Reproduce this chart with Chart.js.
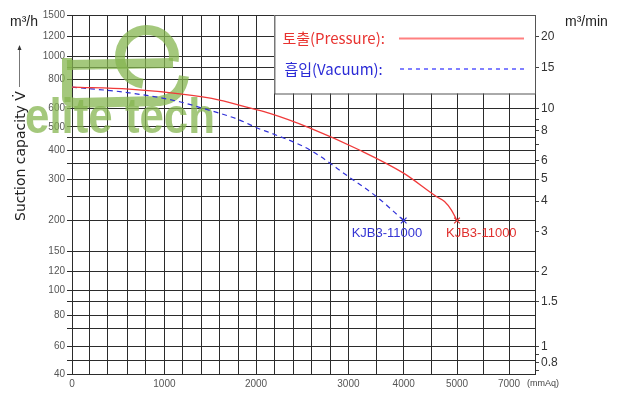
<!DOCTYPE html>
<html>
<head>
<meta charset="utf-8">
<script src="https://cdn.jsdelivr.net/npm/chart.js@4"></script>
<style>
  html, body { margin: 0; background: #fff; }
</style>
</head>
<body>
<canvas id="pumpChart" width="620" height="400"></canvas>
<script>
// pressure axis (mmAq): grid values and labelled values
const pressTicks = [0, 200, 400, 600, 800, 1000, 1200, 1400, 1600, 1800, 2000, 2200, 2400, 2600, 2800, 3000, 3500, 4000, 4500, 5000, 6000, 7000, 8000];
const pressLabels = [0, 1000, 2000, 3000, 4000, 5000, 7000];

// flow axis (m3/h) and right axis (m3/min)
const flowTicks = [40, 50, 60, 70, 80, 90, 100, 120, 150, 200, 250, 300, 350, 400, 450, 500, 600, 800, 900, 1000, 1200, 1500];
const flowLabels = [40, 60, 80, 100, 120, 150, 200, 300, 400, 500, 600, 800, 1000, 1200, 1500];
const minTicks = [0.7, 0.8, 0.9, 1, 1.5, 2, 3, 4, 5, 6, 7, 8, 9, 10, 15, 20];
const minLabels = [0.8, 1, 1.5, 2, 3, 4, 5, 6, 8, 10, 15, 20];

// curves
const pressureX = [0, 620, 1170, 1600, 1930, 2150, 2580, 3200, 3990, 4610, 4760, 4890, 5000];
const pressureY = [740, 725, 692, 652, 603, 572, 496, 400, 319, 250, 239, 221, 200];
const vacuumX = [0, 620, 1170, 1420, 1790, 2040, 2150, 2580, 3020, 3510, 4000];
const vacuumY = [740, 700, 641, 601, 541, 490, 472, 401, 305, 250, 200];

const model = 'KJB3-11000';

// the printed chart is not evenly scaled: where each grid line sits
const xGridPx = [72.3, 89.3, 107.7, 127.7, 146, 164.7, 182.7, 201.3, 219.7, 238.3, 256.3, 274.7, 293.3, 311.7, 330.3, 348.7, 376.3, 404, 431.3, 457.3, 483.3, 509.3, 535.3];
const yGridPx = [374, 360, 346.7, 328.3, 315, 301.5, 290, 271.7, 251, 220.5, 196.7, 179, 163.7, 150, 137.3, 127, 108.5, 79.2, 67.5, 56.7, 36.7, 15];

const xFr = xGridPx.map(p => (p - xGridPx[0]) / (xGridPx[xGridPx.length - 1] - xGridPx[0]));
const yFr = yGridPx.map(p => (yGridPx[0] - p) / (yGridPx[0] - yGridPx[yGridPx.length - 1]));

const KNOTS = {
  x: { vals: pressTicks, fr: xFr, log: false },
  y: { vals: flowTicks, fr: yFr, log: true },
  yr: { vals: flowTicks, fr: yFr, log: true }
};
const TICKS = {
  x: pressTicks,
  y: flowTicks,
  yr: minTicks.map(v => v * 60)
};

// linear scale with piecewise positions between the grid lines
class KnotScale extends Chart.LinearScale {
  static id = 'knot';
  static defaults = Chart.LinearScale.defaults;

  buildTicks() {
    return TICKS[this.id].map(v => ({ value: v }));
  }
  toFrac(v) {
    const k = KNOTS[this.id];
    const t = k.log ? Math.log : (a => a);
    if (v <= k.vals[0]) return k.fr[0];
    for (let i = 1; i < k.vals.length; i++) {
      if (v <= k.vals[i]) {
        return k.fr[i - 1] + (k.fr[i] - k.fr[i - 1]) * (t(v) - t(k.vals[i - 1])) / (t(k.vals[i]) - t(k.vals[i - 1]));
      }
    }
    return k.fr[k.fr.length - 1];
  }
  getPixelForValue(v) {
    return this.getPixelForDecimal(this.toFrac(v));
  }
  getValueForPixel(p) {
    const k = KNOTS[this.id];
    const d = this.getDecimalForPixel(p);
    for (let i = 1; i < k.fr.length; i++) {
      if (d <= k.fr[i]) {
        const r = (d - k.fr[i - 1]) / (k.fr[i] - k.fr[i - 1]);
        if (k.log) return Math.exp(Math.log(k.vals[i - 1]) + r * (Math.log(k.vals[i]) - Math.log(k.vals[i - 1])));
        return k.vals[i - 1] + r * (k.vals[i] - k.vals[i - 1]);
      }
    }
    return k.vals[k.vals.length - 1];
  }
}
Chart.register(KnotScale);

const toPoints = (xs, ys) => xs.map((x, i) => ({ x: x, y: ys[i] }));
const lastOnly = n => ctx => (ctx.dataIndex === n - 1 ? 4 : 0);

const gridColor = '#2b2b2b';

const decor = {
  id: 'decor',
  beforeDatasetsDraw(chart) {
    const { ctx, scales } = chart;
    const right = scales.x.right, top = scales.y.top;
    ctx.save();

    // watermark
    const green = 'rgba(133, 181, 80, 0.75)';
    ctx.strokeStyle = green;
    ctx.lineWidth = 10;
    ctx.beginPath();
    ctx.moveTo(67, 58);
    ctx.lineTo(67, 97);
    ctx.quadraticCurveTo(67, 103, 76, 103);
    ctx.lineTo(160, 101);
    ctx.quadraticCurveTo(181, 98, 184, 76);
    ctx.stroke();
    ctx.beginPath();
    ctx.arc(147, 57, 27, 0.05 * Math.PI, 0.55 * Math.PI, true);
    ctx.stroke();
    ctx.beginPath();
    ctx.moveTo(67, 65);
    ctx.lineTo(173, 63);
    ctx.stroke();
    ctx.fillStyle = green;
    ctx.font = 'bold 50px "Liberation Sans"';
    ctx.textBaseline = 'alphabetic';
    ctx.textAlign = 'left';
    const w = ctx.measureText('elite tech').width;
    ctx.translate(25, 133);
    ctx.scale(190 / w, 1);
    ctx.fillText('elite tech', 0, 0);
    ctx.restore();

    // legend box
    ctx.save();
    const bx = scales.x.getPixelForValue(2200);
    const by = scales.y.getPixelForValue(900) + 26;
    ctx.fillStyle = '#fff';
    ctx.fillRect(bx, top, right - bx, by - top);
    ctx.strokeStyle = '#555';
    ctx.lineWidth = 1;
    ctx.strokeRect(bx + 0.5, top + 0.5, right - bx, by - top);

    ctx.font = '15px "Noto Sans CJK KR"';
    ctx.textBaseline = 'middle';
    ctx.textAlign = 'left';
    ctx.fillStyle = '#e8322f';
    ctx.fillText('토출(Pressure):', bx + 8, 38);
    ctx.fillStyle = '#2b2bd6';
    ctx.fillText('흡입(Vacuum):', bx + 10, 69);

    ctx.strokeStyle = '#ff8080';
    ctx.lineWidth = 2;
    ctx.beginPath();
    ctx.moveTo(399, 38.5);
    ctx.lineTo(524, 38.5);
    ctx.stroke();
    ctx.strokeStyle = '#8080ff';
    ctx.setLineDash([4, 4]);
    ctx.beginPath();
    ctx.moveTo(400, 69);
    ctx.lineTo(526, 69);
    ctx.stroke();
    ctx.restore();
  },
  afterDraw(chart) {
    const { ctx, scales } = chart;
    ctx.save();
    ctx.textBaseline = 'middle';

    // unit labels
    ctx.fillStyle = '#222';
    ctx.font = '14px "Liberation Sans"';
    ctx.textAlign = 'left';
    ctx.fillText('m³/h', 10, 22);
    ctx.fillText('m³/min', 565, 22);
    ctx.fillStyle = '#444';
    ctx.font = '9px "Liberation Sans"';
    ctx.fillText('(mmAq)', 527, 384);

    // axis title with arrow
    ctx.strokeStyle = '#777';
    ctx.lineWidth = 1;
    ctx.beginPath();
    ctx.moveTo(19.5, 87);
    ctx.lineTo(19.5, 48);
    ctx.stroke();
    ctx.fillStyle = '#333';
    ctx.beginPath();
    ctx.moveTo(19.5, 45);
    ctx.lineTo(17.5, 50);
    ctx.lineTo(21.5, 50);
    ctx.closePath();
    ctx.fill();

    ctx.save();
    ctx.translate(21, 156);
    ctx.rotate(-Math.PI / 2);
    ctx.textAlign = 'center';
    ctx.fillStyle = '#222';
    ctx.font = '14px "DejaVu Sans"';
    ctx.fillText('Suction capacity V\u0307', 0, 0);
    ctx.restore();

    // model labels at the curve ends
    ctx.font = '13px "Liberation Sans"';
    ctx.textAlign = 'left';
    const vx = scales.x.getPixelForValue(vacuumX[vacuumX.length - 1]);
    const vy = scales.y.getPixelForValue(vacuumY[vacuumY.length - 1]);
    ctx.fillStyle = '#3434d4';
    ctx.fillText(model, vx - 52, vy + 13);
    const px = scales.x.getPixelForValue(pressureX[pressureX.length - 1]);
    const py = scales.y.getPixelForValue(pressureY[pressureY.length - 1]);
    ctx.fillStyle = '#e0302e';
    ctx.fillText(model, px - 11, py + 13);
    ctx.restore();
  }
};

new Chart(document.getElementById('pumpChart'), {
  type: 'line',
  data: {
    datasets: [{
      label: '토출(Pressure)',
      data: toPoints(pressureX, pressureY),
      borderColor: '#f03a3a',
      borderWidth: 1.3,
      pointStyle: 'crossRot',
      pointRadius: lastOnly(pressureX.length),
      pointBorderColor: '#e0302e',
      pointBorderWidth: 1.2,
      cubicInterpolationMode: 'monotone',
      fill: false
    }, {
      label: '흡입(Vacuum)',
      data: toPoints(vacuumX, vacuumY),
      borderColor: '#3030d8',
      borderWidth: 1.2,
      borderDash: [5, 4],
      pointStyle: 'crossRot',
      pointRadius: lastOnly(vacuumX.length),
      pointBorderColor: '#3030d8',
      pointBorderWidth: 1.2,
      cubicInterpolationMode: 'monotone',
      fill: false
    }]
  },
  options: {
    responsive: false,
    animation: false,
    devicePixelRatio: 1,
    layout: { padding: { top: 15, left: 0, right: 0, bottom: 0 } },
    plugins: {
      legend: { display: false },
      tooltip: { enabled: false }
    },
    scales: {
      x: {
        type: 'knot',
        axis: 'x',
        position: 'bottom',
        min: 0,
        max: 8000,
        afterFit: s => { s.height = 26; },
        grid: { color: gridColor, lineWidth: 1, drawTicks: false },
        border: { color: gridColor },
        ticks: {
          autoSkip: false,
          maxRotation: 0,
          padding: 4,
          color: '#555',
          font: { family: 'Liberation Sans', size: 10 },
          callback: v => (pressLabels.includes(v) ? String(v) : '')
        }
      },
      y: {
        type: 'knot',
        axis: 'y',
        position: 'left',
        min: 40,
        max: 1500,
        afterFit: s => { s.width = 72; },
        grid: { color: gridColor, lineWidth: 1, tickLength: 5 },
        border: { color: gridColor },
        ticks: {
          autoSkip: false,
          padding: 2,
          color: '#555',
          font: { family: 'Liberation Sans', size: 10 },
          callback: v => (flowLabels.includes(v) ? String(v) : '')
        }
      },
      yr: {
        type: 'knot',
        axis: 'y',
        position: 'right',
        min: 40,
        max: 1500,
        afterFit: s => { s.width = 85; },
        grid: { drawOnChartArea: false, color: '#444', tickLength: 4 },
        border: { color: gridColor },
        ticks: {
          autoSkip: false,
          padding: 2,
          color: '#333',
          font: { family: 'Liberation Sans', size: 12 },
          callback: (v, i) => (minLabels.includes(minTicks[i]) ? String(minTicks[i]) : '')
        }
      }
    }
  },
  plugins: [decor]
});
</script>
</body>
</html>
